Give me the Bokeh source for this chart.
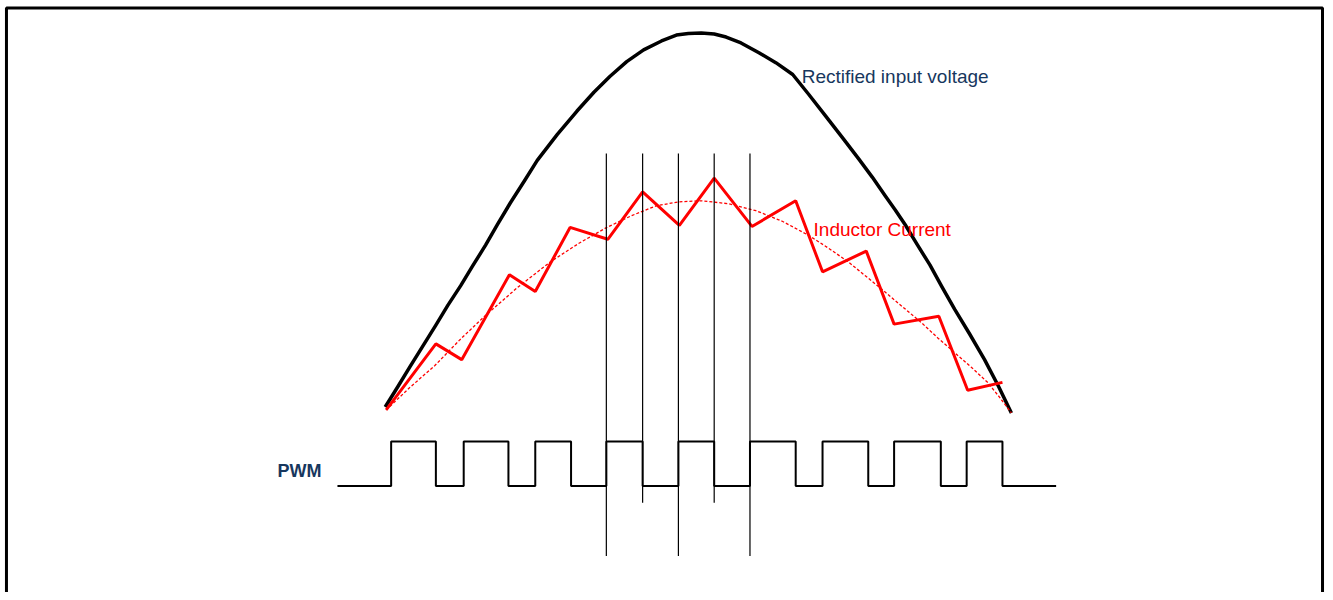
from bokeh.plotting import figure
from bokeh.models import Range1d, ColumnDataSource, BoxAnnotation
from bokeh.core.properties import value
from bokeh.embed import file_html
from bokeh.resources import INLINE

# ---- data (in the reference's pixel frame) ----
# Rectified input voltage (black half-sine)
voltage_x = [387, 400, 412, 425, 438, 450, 463, 475, 488, 500, 513, 527, 540, 560,
             580, 597, 613, 630, 647, 665, 680, 692, 705, 718, 730, 745, 763, 780,
             797, 813, 830, 847, 863, 877, 890, 900, 910, 922, 935, 947, 960, 975,
             990, 1004, 1017]
voltage_y = [412, 391, 371, 350, 329, 309, 289, 269, 248, 227, 205, 183, 162, 136,
             112, 93, 77, 62, 50, 41, 35, 33.5, 33, 34, 37, 43, 53, 63,
             75, 95, 117, 139, 160, 179, 198, 212, 227, 247, 268, 290, 313, 338,
             364, 391, 418]

# Average inductor current (dashed red)
avg_x = [388, 412, 437, 462, 487, 520, 553, 582, 610, 635, 660, 683, 705, 733,
         760, 787, 813, 833, 853, 870, 887, 907, 927, 943, 960, 977, 993, 1005, 1017]
avg_y = [415, 392, 370, 344, 320, 291, 265, 246, 230, 218, 208, 204, 203, 206,
         213, 224, 238, 251, 265, 279, 293, 310, 327, 342, 357, 372, 387, 402, 418]

# Inductor current ripple (solid red zig-zag)
current_x = [388, 438, 464, 512, 538, 573, 611, 646, 683, 718, 756, 800,
             827, 871, 899, 944, 973, 1008]
current_y = [415, 348, 364, 278, 295, 230, 242, 194, 228, 180, 229, 203,
             275, 254, 328, 320, 395, 387]

# PWM switching edges and levels (1 = on, 0 = off)
pwm_edges = [339, 393, 438, 466, 511, 538, 574, 609.5, 646, 682, 718, 754,
             800, 827, 873, 899, 946, 972, 1008, 1062]
pwm_levels = [0, 1, 0, 1, 0, 1, 0, 1, 0, 1, 0, 1, 0, 1, 0, 1, 0, 1, 0, 0]
pwm_low, pwm_high = 492, 447

# Marker lines at switching instants
marker_x = [609.5, 646, 682, 718, 754]
marker_top = [155, 155, 155, 155, 155]
marker_bottom = [563, 509, 563, 509, 563]

# Labels
label_text = ["Rectified input voltage", "Inductor Current"]
label_x = [806, 818]
label_y = [77, 232]
label_color = ["#17375E", "#FF0000"]

# ---- figure ----
p = figure(width=1325, height=592, x_range=Range1d(0, 1333), y_range=Range1d(600, 0),
           output_backend="svg", toolbar_location=None, min_border=0)
p.axis.visible = False
p.grid.visible = False
p.outline_line_color = None
p.background_fill_color = "white"
p.border_fill_color = "white"

# picture frame (left, top, right edges; bottom lies below the view)
p.add_layout(BoxAnnotation(left=6, right=1330, top=7.5, bottom=640,
                           fill_color=None, fill_alpha=0,
                           line_color="black", line_alpha=1.0, line_width=3))

p.line(voltage_x, voltage_y, line_color="black", line_width=3.5, line_join="round")
p.line(avg_x, avg_y, line_color="#FF0000", line_width=1.3, line_dash="3 2")
p.line(current_x, current_y, line_color="#FF0000", line_width=3)

pwm_y = [pwm_low + lv * (pwm_high - pwm_low) for lv in pwm_levels]
p.step(pwm_edges, pwm_y, mode="after", line_color="black", line_width=2)

p.segment(x0=marker_x, y0=marker_top, x1=marker_x, y1=marker_bottom,
          line_color="black", line_width=1.2)

src = ColumnDataSource(dict(x=label_x, y=label_y, t=label_text, c=label_color))
p.text(x="x", y="y", text="t", text_color="c", source=src,
       text_font=value("Liberation Sans"), text_font_size="19px",
       text_baseline="alphabetic", text_align="left")

p.text(x=[323], y=[477], text=["PWM"], text_color="#17375E",
       text_font=value("Liberation Sans"), text_font_size="18px",
       text_font_style="bold", text_baseline="alphabetic", text_align="right")

open("out.html", "w").write(file_html(p, INLINE))
